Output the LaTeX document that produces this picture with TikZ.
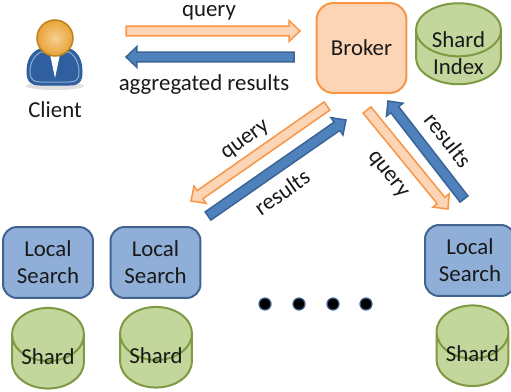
\documentclass[tikz,border=0pt]{standalone}
\usepackage{fontspec}
\setmainfont{Carlito}
\usepackage{xcolor}
\usetikzlibrary{calc}
\usetikzlibrary{shapes.geometric}
\definecolor{brokerfill}{HTML}{FBD5B5}
\definecolor{brokerline}{HTML}{F79646}
\definecolor{searchfill}{HTML}{8FAFD8}
\definecolor{searchline}{HTML}{41638F}
\definecolor{shardfill}{HTML}{C3D69B}
\definecolor{shardline}{HTML}{7E9A42}
\definecolor{resultfill}{HTML}{4F81BD}
\definecolor{resultline}{HTML}{3A6496}
\definecolor{headfill}{HTML}{E8A336}
\definecolor{headlight}{HTML}{F6CF92}
\definecolor{headline}{HTML}{BC8420}
\definecolor{bodyfill}{HTML}{2F5F9E}
\newcommand{\liftlabel}[2]{\raisebox{#1}[0pt][0pt]{#2}}
\tikzset{
  txt/.style={font=\fontsize{13pt}{15.3pt}\selectfont,text=black!90,align=center,inner sep=0pt},
  broker/.style={txt,draw=brokerline,fill=brokerfill,line width=0.4mm,rounded corners=0.34cm,minimum width=1.8cm,minimum height=1.8cm},
  search/.style={txt,draw=searchline,fill=searchfill,line width=0.4mm,rounded corners=0.28cm,minimum width=1.8cm,minimum height=1.42cm},
  shard/.style={txt,draw=shardline,fill=shardfill,line width=0.4mm,cylinder,shape border rotate=90,aspect=1.0,minimum width=1.44cm,minimum height=1.4cm},
  blockarrow/.style={line width=0.3mm,line join=miter,to path={
    ($(\tikztostart)!0.1cm!90:(\tikztotarget)$)
    -- ($(\tikztotarget)!0.22cm!(\tikztostart)!0.1cm!90:(\tikztotarget)$)
    -- ($(\tikztotarget)!0.22cm!(\tikztostart)!0.21cm!90:(\tikztotarget)$)
    -- (\tikztotarget)
    -- ($(\tikztotarget)!0.22cm!(\tikztostart)!0.21cm!-90:(\tikztotarget)$)
    -- ($(\tikztotarget)!0.22cm!(\tikztostart)!0.1cm!-90:(\tikztotarget)$)
    -- ($(\tikztostart)!0.1cm!-90:(\tikztotarget)$) -- cycle}},
  queryarrow/.style={blockarrow,draw=brokerline,fill=brokerfill},
  resultarrow/.style={blockarrow,draw=resultline,fill=resultfill},
  dot/.style={circle,fill=black,draw=searchline,line width=0.25mm,inner sep=0pt,minimum size=0.24cm}
}
\begin{document}
\begin{tikzpicture}[x=0.02cm,y=-0.02cm]
\useasboundingbox (0,0) rectangle (511,392);
  % client icon
  \fill[black,opacity=0.12] (55,86) ellipse (29 and 4);
  \draw[fill=bodyfill,draw=bodyfill,line width=0.2mm] (40,49) .. controls (30,53) and (27,62) .. (27,72)
    .. controls (27,82) and (32,85) .. (40,85) -- (70,85)
    .. controls (78,85) and (82,82) .. (82,72)
    .. controls (82,62) and (79,53) .. (70,49) -- cycle;
  \draw[fill=bodyfill,draw=searchfill,line width=0.2mm] (41,52) .. controls (33,56) and (30,64) .. (30,72)
    .. controls (30,80) and (34,82) .. (41,82) -- (69,82)
    .. controls (76,82) and (79,80) .. (79,72)
    .. controls (79,64) and (76,56) .. (69,52) -- cycle;
  \fill[white] (50,54) -- (60,54) -- (55,78) -- cycle;
  \shade[inner color=headlight,outer color=headfill,draw=headline,line width=0.3mm] (55,38) circle (18);
  \node[txt] at (55,110) (client) {Client};

  \node[broker] at (361.5,48) (broker) {Broker};
  \node[shard,minimum width=1.7cm,minimum height=1.62cm] at (458.5,57.5) (index) {\liftlabel{-0.06cm}{\begin{tabular}{@{}c@{}}Shard\\Index\end{tabular}}};

  \node[search] at (48,262.5) (search1) {Local\\Search};
  \node[search] at (155.5,262.5) (search2) {Local\\Search};
  \node[search] at (470,260.5) (search3) {Local\\Search};
  \node[shard] at (48,362) (shard1) {\liftlabel{-0.04cm}{Shard}};
  \node[shard] at (156,361) (shard2) {\liftlabel{-0.04cm}{Shard}};
  \node[shard] at (472.5,359.5) (shard3) {\liftlabel{-0.04cm}{Shard}};

  \node[dot] at (265,304) (dot1) {};
  \node[dot] at (299,304) (dot2) {};
  \node[dot] at (333,304) (dot3) {};
  \node[dot] at (366,304) (dot4) {};

  \coordinate (qa) at (126,31);
  \coordinate (qb) at (300,31);
  \coordinate (ra) at (294,57);
  \coordinate (rb) at (126,57);
  \coordinate (qc) at (327,106);
  \coordinate (qd) at (191,201);
  \coordinate (rc) at (208,216);
  \coordinate (rd) at (346,120);
  \coordinate (qe) at (367,110);
  \coordinate (qf) at (448,209);
  \coordinate (re) at (464,199);
  \coordinate (rf) at (388,101);
  \draw[queryarrow] (qa) to (qb);
  \draw[resultarrow] (ra) to (rb);
  \draw[queryarrow] (qc) to (qd);
  \draw[resultarrow] (rc) to (rd);
  \draw[queryarrow] (qe) to (qf);
  \draw[resultarrow] (re) to (rf);

  \node[txt] at (209,13) (q1) {query};
  \node[txt] at (204,85) (r1) {aggregated results};
  \node[txt,rotate=36] at (246,141) (q2) {query};
  \node[txt,rotate=35] at (282,192) (r2) {results};
  \node[txt,rotate=-52] at (387,175) (q3) {query};
  \node[txt,rotate=-52] at (448,140) (r3) {results};
\end{tikzpicture}
\end{document}
